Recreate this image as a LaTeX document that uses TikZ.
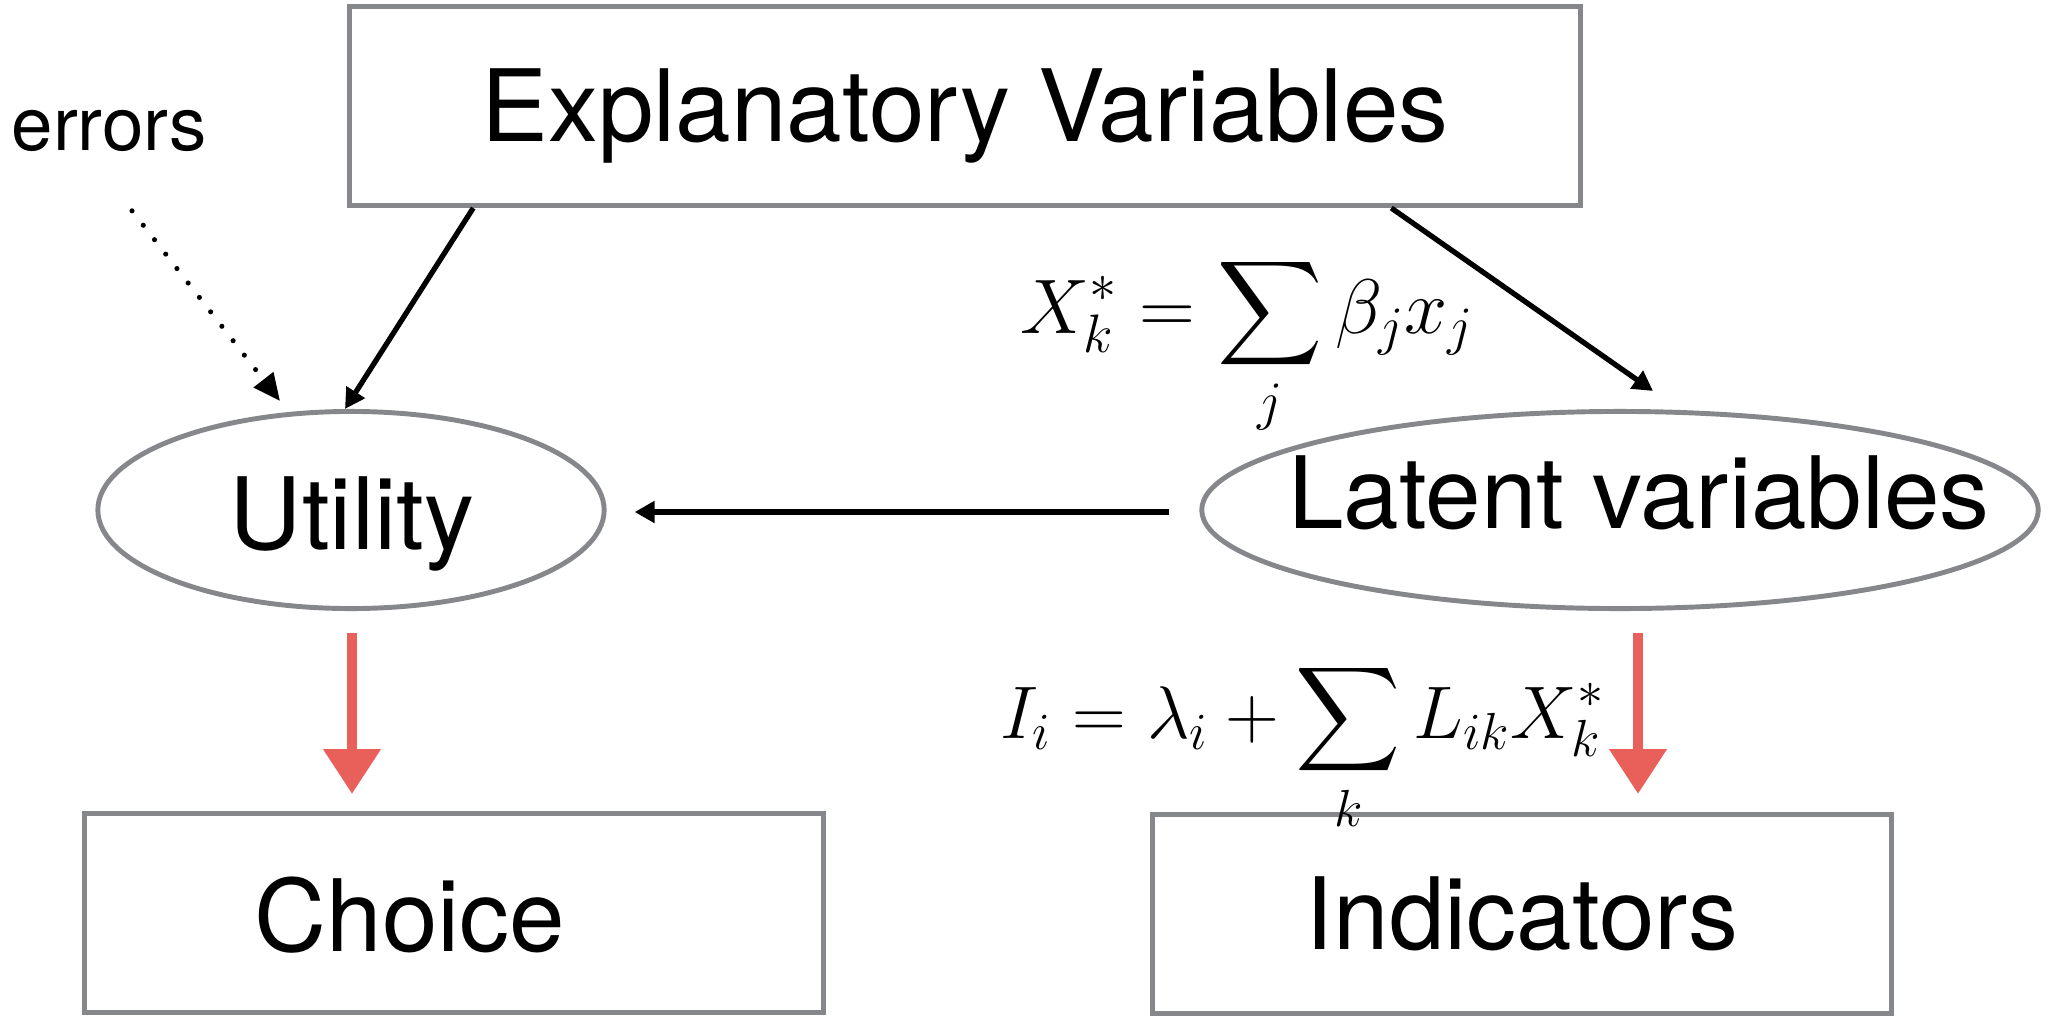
\RequirePackage{fix-cm}
\documentclass[tikz,border=0pt]{standalone}
\usepackage{amsmath}
\usepackage{fontspec}
\setmainfont{TeX Gyre Heros}
\usetikzlibrary{arrows.meta,shapes.geometric,calc}
\definecolor{edge}{HTML}{86878B}
\definecolor{chalk}{HTML}{E95F59}

\begin{document}
\begin{tikzpicture}[x=0.01cm, y=-0.01cm,
  box/.style={draw=edge, line width=1.4pt, minimum width=7.38cm, minimum height=1.99cm, inner sep=0pt},
  ell/.style={draw=edge, ellipse, line width=1.4pt, inner sep=0pt, minimum height=1.97cm},
  big/.style={font=\fontsize{28.4}{34}\selectfont, text height=20.4pt, text depth=0pt, inner sep=0pt},
  lab/.style={font=\fontsize{22}{26}\selectfont, inner sep=0pt, anchor=base west},
  arr/.style={-{Triangle[length=0.2cm, width=0.21cm]}, line width=1.5pt},
  dots/.style={-{Triangle[length=0.27cm, width=0.24cm]}, line width=1.45pt, line cap=round, dash pattern=on 0pt off 5.2pt},
  redarr/.style={-{Triangle[length=0.45cm, width=0.55cm]}, line width=3.1pt, draw=chalk, fill=chalk}]
  \useasboundingbox (0,0) rectangle (2049,1021);
  \node[box, big, minimum width=12.30cm] (expl) at (965,106) {Explanatory Variables};
  \node[ell, minimum width=5.06cm] (util) at (351,510) {};
  \node[big] (utiltxt) at (352,514) {Utility};
  \node[ell, minimum width=8.36cm] (latent) at (1620,510) {};
  \node[big] (latenttxt) at (1639,493) {Latent variables};
  \node[box] (choice) at (454,913) {};
  \node[big] (choicetxt) at (410,916) {Choice};
  \node[box, big] (ind) at (1522,914) {Indicators};
  \node[lab, font=\fontsize{21.2}{26}\selectfont] (errors) at (11,150) {errors};
  \node[lab] (xstar) at (1020,333) {$\displaystyle X_k^* = \sum_j \beta_j x_j$};
  \node[lab, font=\fontsize{21.2}{26}\selectfont] (meas) at (1000,738) {$\displaystyle I_i = \lambda_i + \sum_k L_{ik} X_k^*$};
  \draw[arr] ($(expl.south west)!0.102!(expl.south east)$) -- ($(util.north)+(-6,0)$);
  \draw[arr] ($(expl.south west)!0.845!(expl.south east)$) -- ($(latent.north)+(33,-18)$);
  \draw[arr] ($(latent.west)+(-30,2)$) -- ($(util.east)+(28,2)$);
  \draw[dots] ($(errors.south)+(23,59)$) -- ($(util.north)+(-71,-8)$);
  \draw[redarr] ($(util.south)+(1,22)$) -- ($(util.south)+(1,183)$);
  \draw[redarr] ($(latent.south)+(18,22)$) -- ($(latent.south)+(18,183)$);
\end{tikzpicture}
\end{document}
